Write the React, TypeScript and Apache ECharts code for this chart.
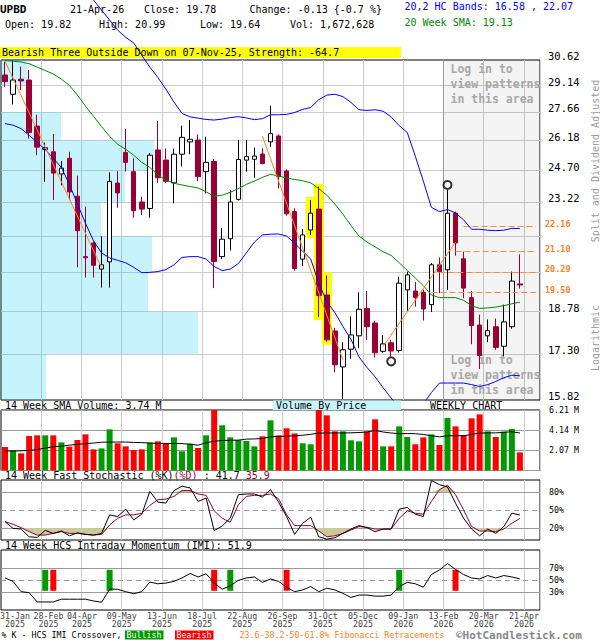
import React, { useEffect, useRef } from 'react';
import * as echarts from 'echarts';

const MONO = '"DejaVu Sans Mono", monospace';
const NUM_SLOTS = 67;

// ---------- weekly OHLC (31-Jan-2025 .. 21-Apr-2026) ----------
const opens = [29.74, 28.65, 29.5, 29.45, 26.93, 25.74, 25.62, 24.54, 25.3, 23.5,
  20.9, 21.46, 20.4, 20.69, 24.11, 25.59, 24.65, 23.24, 22.95, 25.71,
  25.21, 24.12, 25.5, 26.12, 26.21, 24.65, 25.14, 20.9, 21.64, 23.36,
  25.21, 25.25, 25.51, 26.12, 26.42, 24.68, 22.81, 20.8, 22.01, 22.92,
  19.4, 18.09, 16.87, 17.46, 17.92, 18.9, 18.37, 17.39, 17.68, 17.42,
  19.59, 19.55, 19.5, 19.04, 20.57, 20.37, 22.74, 20.81, 19.3, 18.3,
  17.92, 18.24, 17.56, 18.24, 19.82];
const highs = [30.52, 30.6, 30.23, 30.03, 27.53, 26.08, 26.52, 25.16, 25.62, 24.46,
  23.03, 21.52, 21.74, 24.62, 24.68, 26.78, 25.3, 23.47, 25.55, 27.2,
  25.78, 25.78, 26.95, 27.25, 26.5, 26.38, 25.26, 22.1, 23.79, 26.21,
  26.21, 25.83, 25.8, 28.02, 26.5, 24.75, 22.96, 22.05, 23.33, 23.94,
  20.15, 18.2, 17.7, 18.61, 19.5, 19.55, 18.45, 17.95, 17.78, 20.1,
  20.3, 19.9, 19.6, 20.64, 20.87, 23.79, 22.81, 21.1, 19.55, 18.67,
  18.5, 18.53, 19.04, 20.3, 20.99];
const lows = [29.07, 28.09, 28.88, 26.29, 25.45, 24.17, 23.33, 24.0, 23.33, 20.47,
  20.07, 20.07, 19.68, 19.68, 22.98, 24.65, 22.54, 22.66, 22.54, 24.12,
  24.12, 23.18, 24.9, 25.5, 24.2, 23.63, 19.66, 20.8, 21.15, 23.3,
  24.65, 24.36, 25.0, 25.87, 23.86, 22.63, 20.34, 20.52, 21.8, 18.59,
  17.72, 16.69, 15.85, 17.14, 17.49, 17.78, 17.18, 17.34, 17.22, 17.35,
  18.8, 18.96, 18.46, 18.77, 19.47, 19.59, 20.94, 19.28, 17.63, 16.8,
  17.7, 17.44, 17.22, 18.17, 19.64];
const closes = [29.36, 29.45, 29.4, 26.6, 25.85, 25.82, 24.58, 24.82, 23.7, 21.98,
  20.85, 20.55, 20.57, 24.19, 23.65, 25.1, 22.85, 22.92, 25.45, 24.36,
  24.19, 25.5, 26.35, 26.25, 24.41, 25.1, 20.7, 21.62, 23.24, 25.24,
  25.38, 25.41, 25.04, 26.54, 24.41, 22.71, 20.42, 21.8, 22.74, 19.38,
  17.78, 16.94, 17.44, 17.95, 18.87, 18.24, 17.34, 17.64, 17.4, 19.85,
  20.17, 19.3, 18.88, 20.57, 20.3, 22.74, 21.46, 19.66, 18.28, 17.25,
  18.1, 17.52, 18.41, 19.93, 19.78];

// ---------- overlays ----------
const upperBand = [null, null, null, null, null, null, null, null, null, null,
  35.1, 34.4, 33.74, 33.09, 32.45, 32.0, 31.65, 30.9, 30.2, 29.6,
  28.93, 28.22, 27.6, 27.42, 27.35, 27.28, 27.25, 27.3, 27.38, 27.43,
  27.36, 27.27, 27.32, 27.53, 27.53, 27.55, 27.65, 27.82, 27.92, 28.35,
  28.6, 28.65, 28.52, 28.2, 27.8, 27.76, 27.8, 27.72, 27.42, 26.95,
  26.6, 25.4, 24.2, 23.0, 22.81, 22.9, 22.75, 22.45, 22.04, 22.04,
  22.0, 21.98, 22.0, 22.08, 22.07];
const lowerBand = [27.06, 26.98, 26.8, 26.45, 26.1, 25.73, 25.3, 24.85, 24.05, 23.15,
  22.3, 21.55, 21.05, 20.85, 20.75, 20.65, 20.47, 20.26, 20.27, 20.3,
  20.38, 20.57, 20.87, 20.9, 20.9, 20.8, 20.5, 20.34, 20.4, 20.62,
  21.05, 21.5, 21.8, 21.83, 21.84, 21.75, 21.45, 21.12, 20.8, 19.85,
  19.15, 18.75, 18.25, 17.8, 17.2, 16.85, 16.55, 16.2, 15.88, 15.6,
  15.45, 15.45, 15.7, 16.05, 16.35, 16.35, 16.35, 16.35, 16.3, 16.24,
  16.3, 16.4, 16.52, 16.6, 16.58];
const sma20 = [30.58, 30.55, 30.5, 30.4, 30.2, 30.0, 29.8, 29.5, 29.15, 28.6,
  28.0, 27.45, 26.9, 26.4, 26.0, 25.75, 25.45, 25.1, 24.85, 24.5,
  24.25, 24.1, 24.02, 23.95, 23.88, 23.7, 23.5, 23.55, 23.68, 23.85,
  24.05, 24.2, 24.38, 24.52, 24.45, 24.34, 24.28, 24.22, 24.12, 23.85,
  23.55, 23.15, 22.7, 22.2, 21.75, 21.5, 21.3, 21.1, 20.95, 20.65,
  20.35, 20.05, 19.75, 19.4, 19.3, 19.3, 19.3, 19.2, 19.0, 18.9,
  18.92, 18.95, 19.0, 19.07, 19.13];

const priceTicks = [30.62, 29.14, 27.66, 26.18, 24.70, 23.22, 21.74, 20.26, 18.78, 17.30, 15.82];
const hiddenPriceLabels = [21.74, 20.26];
// volume by price per band (top band first), millions of shares
const vbpVolume = [5.2, 0, 12.0, 30.6, 24.8, 20.0, 30.2, 29.4, 39.4, 9.0];
const VBP_AXIS_MAX = 107.8;

const fibLevels = [22.16, 21.10, 20.29, 19.50];
const fibStartWeeks = [57, 56, 54, 53];
const trendLines = [
  [[0, 30.55], [12, 20.45]],
  [[32, 26.4], [42, 17.1]],
  [[47, 17.55], [56, 21.5]],
];
const patternWeeks = [38, 39, 40];
const highMarkers = [[55, 23.79]];
const lowMarkers = [[48, 17.22]];
const loginFromWeek = 55;

// ---------- volume ----------
const volumes = [2.41, 2.07, 1.76, 3.54, 3.61, 3.61, 3.61, 2.89, 2.45, 3.13,
  3.71, 2.17, 2.27, 4.22, 2.79, 2.48, 2.10, 2.17, 2.86, 2.99,
  2.75, 3.40, 1.97, 2.75, 2.31, 3.61, 6.35, 4.64, 3.40, 3.13,
  3.03, 2.48, 3.51, 5.15, 3.61, 4.33, 3.81, 2.79, 2.69, 6.4,
  5.66, 4.02, 4.02, 3.10, 2.99, 4.02, 5.25, 2.48, 2.48, 4.53,
  3.44, 2.69, 3.40, 3.71, 2.62, 5.39, 4.53, 3.64, 5.35, 5.76,
  4.02, 3.44, 3.99, 4.26, 1.86];
const volSma = [2.0, 2.0, 2.02, 2.07, 2.15, 2.3, 2.44, 2.5, 2.6, 2.68,
  2.75, 2.82, 2.9, 2.92, 2.92, 2.92, 2.88, 2.86, 2.82, 2.78,
  2.77, 2.77, 2.76, 2.7, 2.6, 2.85, 3.0, 3.08, 3.1, 3.12,
  3.22, 3.24, 3.28, 3.45, 3.5, 3.53, 3.56, 3.62, 3.71, 3.84,
  3.85, 3.85, 3.85, 3.87, 3.9, 3.95, 4.11, 3.95, 3.85, 3.78,
  3.79, 3.78, 3.7, 3.57, 3.45, 3.57, 3.57, 3.57, 3.7, 3.84,
  3.86, 3.86, 3.92, 3.98, 3.85];

// ---------- stochastic ----------
const stochK = [30.7, 19.4, 18.3, 5.4, 4.3, 16, 11, 15, 7, 12,
  9.4, 8.2, 11, 41.9, 39, 51.4, 33.5, 43, 81, 63.2,
  61.5, 82.3, 89.6, 86.8, 64.3, 70, 15.5, 23.4, 36.3, 75.5,
  76.7, 76.7, 71.6, 84, 63.2, 39, 9.4, 27.9, 38, 5.4,
  1.5, 3.8, 11, 18.3, 24, 20.6, 13.9, 18.3, 18.3, 51.4,
  54.2, 43, 39, 99, 92.3, 88.4, 61.5, 36.3, 18.3, 7,
  18.3, 11, 22.3, 44.7, 41.7];
const stochD = [30.7, 26.2, 20.6, 13.9, 8.2, 8.2, 11, 13.9, 11, 11,
  9.4, 8.2, 9.4, 25, 36.3, 41.9, 41.9, 44.7, 57.6, 67.1,
  68.2, 72.7, 82.3, 82.3, 76.7, 74.4, 48.6, 36.3, 29.5, 58.7,
  72.7, 74.4, 74.4, 76.7, 68.8, 41.9, 24, 24, 24, 15,
  5.4, 7, 11, 16.7, 22.3, 21.2, 18.3, 18.3, 18.3, 36.3,
  48.6, 44.7, 43, 64.3, 84, 91.3, 75.5, 50.3, 22.3, 15,
  15, 13.9, 18.3, 27.9, 35.9];

// ---------- IMI ----------
const imi = [53.4, 47.7, 30.6, 28.9, 13.4, 13.4, 13.4, 18, 18, 18,
  18, 15.1, 12.9, 34.6, 34.6, 30.6, 27.1, 30.6, 46.6, 43.7,
  44.9, 47.7, 53.4, 60.9, 55.1, 60.3, 44.9, 34.6, 40.3, 49.4,
  53.4, 55.1, 46, 51.7, 47.7, 38, 30.6, 33.4, 39.1, 30.6,
  36.3, 33.4, 27.7, 20.9, 24.9, 24.9, 23.1, 23.1, 24.9, 39.1,
  46, 43.7, 38, 59.1, 66.6, 77.4, 67.7, 59.1, 53.4, 51.7,
  57.4, 53.4, 57.4, 55.1, 51.9];
const imiCrossWeeks = [5, 6, 13, 26, 28, 35, 49, 56];
const imiCrossBullish = [true, false, true, false, true, false, true, false];
const IMI_BAR_LOW = 32;
const IMI_BAR_HIGH = 67;

// ---------- x tick labels ----------
const tickWeeks = [0, 4, 9, 14, 19, 24, 29, 34, 39, 44, 49, 54, 59, 64];
const tickLabels = ['31-Jan\n2025', '28-Feb\n2025', '04-Apr\n2025', '09-May\n2025', '13-Jun\n2025',
  '18-Jul\n2025', '22-Aug\n2025', '26-Sep\n2025', '31-Oct\n2025', '05-Dec\n2025',
  '09-Jan\n2026', '13-Feb\n2026', '20-Mar\n2026', '21-Apr\n2026'];

const weeks = Array.from({ length: NUM_SLOTS }, (_, i) =>
  new Date(Date.UTC(2025, 0, 31) + i * 7 * 86400000).toISOString().slice(0, 10));

const UP = '#ffffff';
const DOWN = '#990033';
const GREEN = '#009900';
const RED = '#ff0000';
const ORANGE = '#ff7f1e';
const TICK_FONT = 8.3;

function buildOption() {
  const gridBase = {
    left: 1, width: 539, show: true, borderColor: '#000', borderWidth: 1,
    backgroundColor: '#fff', containLabel: false, outerBoundsMode: 'none',
  };
  const grids = [
    { ...gridBase, top: 60, height: 340 },
    { ...gridBase, top: 410, height: 60.5 },
    { ...gridBase, top: 480, height: 60 },
    { ...gridBase, top: 550, height: 60 },
  ];

  const catAxis = (gridIndex: number) => ({
    type: 'category', gridIndex, data: weeks, boundaryGap: true,
    axisLine: { show: false }, axisTick: { show: false },
    axisLabel: { show: false },
    splitLine: {
      show: true,
      interval: (idx: number) => idx > 0 && idx % 5 === 0,
      lineStyle: { color: '#cccccc', width: 1 },
    },
  });

  const xAxes = [
    catAxis(0),
    { type: 'value', gridIndex: 0, min: 0, max: VBP_AXIS_MAX, show: false, position: 'top' },
    catAxis(1),
    catAxis(2),
    catAxis(3),
  ];

  const hiddenY = {
    axisLine: { show: false }, axisTick: { show: false },
    axisLabel: { show: false }, splitLine: { show: false },
  };
  const yAxes = [
    { type: 'log', gridIndex: 0, min: 15.82, max: 30.62, logBase: 10, ...hiddenY },
    {
      type: 'value', gridIndex: 1, min: 0, max: 6.21, interval: 2.07, position: 'right',
      axisLine: { show: false }, axisTick: { show: false },
      splitLine: { show: true, lineStyle: { color: '#999', width: 1 } },
      axisLabel: {
        show: true, margin: 9, color: '#000', fontFamily: MONO, fontSize: 8.3,
        formatter: (v: number) => (v === 0 ? '' : `${v.toFixed(2)} M`),
      },
    },
    { type: 'value', gridIndex: 2, min: 0, max: 100, ...hiddenY },
    { type: 'value', gridIndex: 3, min: 0, max: 100, ...hiddenY },
  ];

  const pctLines = (levels: number[], dashed: number) => ({
    silent: true, z: 1, symbol: ['none', 'none'], animation: false,
    lineStyle: { color: '#999', width: 1, type: 'solid' },
    label: {
      show: true, position: 'end', distance: 9, color: '#000', fontFamily: MONO, fontSize: 8.3,
      formatter: (p: any) => `${p.value}%`,
    },
    data: levels.map((v) => ({
      yAxis: v,
      lineStyle: v === dashed ? { color: '#999', type: [5, 4] } : { color: '#999', type: 'solid' },
    })),
  });

  const series: any[] = [];

  // volume-by-price bands
  series.push({
    type: 'custom', xAxisIndex: 1, yAxisIndex: 0, z: 1, silent: true,
    encode: { x: 0, y: [1, 2] },
    data: vbpVolume.map((v, k) => [v, priceTicks[k + 1], priceTicks[k]]),
    renderItem: (_params: any, api: any) => {
      const v = api.value(0);
      if (!v) return null;
      const p0 = api.coord([0, api.value(2)]);
      const p1 = api.coord([v, api.value(1)]);
      return {
        type: 'rect',
        shape: { x: p0[0], y: p0[1], width: p1[0] - p0[0], height: p1[1] - p0[1] },
        style: { fill: 'rgba(0,205,240,0.22)' },
      };
    },
  });

  // price grid lines with labels
  series.push({
    type: 'line', xAxisIndex: 0, yAxisIndex: 0, data: [], z: 1, silent: true,
    markLine: {
      silent: true, z: 1, symbol: ['none', 'none'], animation: false,
      lineStyle: { color: '#cccccc', width: 1, type: 'solid' },
      label: {
        show: true, position: 'end', distance: 8, color: '#000', fontFamily: MONO, fontSize: 10.5,
        verticalAlign: 'bottom', lineHeight: 8,
        formatter: (p: any) => Number(p.value).toFixed(2),
      },
      data: priceTicks.map((v, k) => ({
        yAxis: v,
        lineStyle: k === 0 || k === priceTicks.length - 1
          ? { color: 'rgba(0,0,0,0)' } : { color: '#cccccc' },
        label: hiddenPriceLabels.includes(v) ? { show: false } : { show: true },
      })),
    },
  });

  // "log in" shaded area
  series.push({
    type: 'custom', xAxisIndex: 0, yAxisIndex: 0, z: 1, silent: true,
    data: [[weeks[loginFromWeek], priceTicks[0]]],
    renderItem: (params: any, api: any) => {
      const cs = params.coordSys;
      const bw = cs.width / NUM_SLOTS;
      const x0 = api.coord([api.value(0), api.value(1)])[0] - bw / 2;
      const right = cs.x + cs.width;
      const ts = {
        text: 'Log in to\nview patterns\nin this area', fill: '#a8a8a8',
        fontFamily: MONO, fontSize: 11.5, fontWeight: 'bold', lineHeight: 15,
        align: 'left', textAlign: 'left',
      };
      return {
        type: 'group',
        children: [
          { type: 'rect', shape: { x: x0, y: cs.y, width: right - x0, height: cs.height }, style: { fill: 'rgba(0,0,0,0.045)' } },
          { type: 'line', shape: { x1: x0, y1: cs.y, x2: x0, y2: cs.y + cs.height }, style: { stroke: '#999', lineWidth: 1 } },
          { type: 'text', x: x0 + 7, y: cs.y + 1, style: { ...ts, verticalAlign: 'top', textVerticalAlign: 'top' } },
          { type: 'text', x: x0 + 7, y: cs.y + cs.height - 3, style: { ...ts, verticalAlign: 'bottom', textVerticalAlign: 'bottom' } },
        ],
      };
    },
  });

  // pattern highlight boxes
  series.push({
    type: 'custom', xAxisIndex: 0, yAxisIndex: 0, z: 2, silent: true,
    encode: { x: 0, y: [1, 2] },
    data: patternWeeks.map((w) => [weeks[w], highs[w], lows[w]]),
    renderItem: (params: any, api: any) => {
      const cs = params.coordSys;
      const bw = cs.width / NUM_SLOTS;
      const top = api.coord([api.value(0), api.value(1)]);
      const bot = api.coord([api.value(0), api.value(2)]);
      const w = bw * 1.25;
      return {
        type: 'rect',
        shape: { x: top[0] - w / 2, y: top[1] - 3, width: w, height: bot[1] - top[1] + 6 },
        style: { fill: '#ffff00' },
      };
    },
  });

  // candles
  series.push({
    type: 'candlestick', xAxisIndex: 0, yAxisIndex: 0, z: 3, barWidth: 5,
    data: opens.map((o, i) => [o, closes[i], lows[i], highs[i]]),
    itemStyle: { color: UP, color0: DOWN, borderColor: '#000', borderColor0: DOWN, borderWidth: 1 },
  });

  const line = (data: any[], color: string, extra: any = {}) => ({
    type: 'line', xAxisIndex: 0, yAxisIndex: 0, data, symbol: 'none', z: 4, silent: true,
    lineStyle: { color, width: 1 }, itemStyle: { color }, ...extra,
  });
  series.push(line(sma20, '#008800'));
  series.push(line(lowerBand, '#0000ff'));
  series.push(line(upperBand, '#0000ff', { clip: false, connectNulls: false }));
  trendLines.forEach((t) => {
    series.push(line(t.map(([w, p]) => [weeks[w], p]), ORANGE));
  });

  // fibonacci retracements
  series.push({
    type: 'line', xAxisIndex: 0, yAxisIndex: 0, data: [], z: 4, silent: true,
    markLine: {
      silent: true, z: 4, symbol: ['none', 'none'], animation: false,
      lineStyle: { color: '#ff8a3c', width: 1, type: [6, 3] },
      label: {
        show: true, position: 'end', distance: 9, color: '#ff7f1e', fontFamily: MONO,
        fontSize: 8.5, fontWeight: 'bold', verticalAlign: 'bottom', lineHeight: 5,
        formatter: (p: any) => p.name,
      },
      data: fibLevels.map((v, k) => [
        { name: v.toFixed(2), coord: [weeks[fibStartWeeks[k]], v] },
        { name: v.toFixed(2), coord: [weeks[NUM_SLOTS - 1], v] },
      ]),
    },
  });

  // pattern markers
  series.push({
    type: 'scatter', xAxisIndex: 0, yAxisIndex: 0, z: 5, silent: true,
    symbol: 'emptyCircle', symbolSize: 8, symbolOffset: [0, -5],
    itemStyle: { color: '#000', borderColor: '#000', borderWidth: 1 },
    data: highMarkers.map(([w, p]) => [weeks[w], p]),
  });
  series.push({
    type: 'scatter', xAxisIndex: 0, yAxisIndex: 0, z: 5, silent: true,
    symbol: 'emptyCircle', symbolSize: 8, symbolOffset: [0, 5],
    itemStyle: { color: '#000', borderColor: '#000', borderWidth: 1 },
    data: lowMarkers.map(([w, p]) => [weeks[w], p]),
  });

  // volume
  series.push({
    type: 'bar', xAxisIndex: 2, yAxisIndex: 1, barWidth: 6, z: 2, silent: true,
    data: volumes.map((v, i) => ({
      value: v,
      itemStyle: { color: closes[i] >= opens[i] ? GREEN : RED },
    })),
  });
  series.push({
    type: 'line', xAxisIndex: 2, yAxisIndex: 1, data: volSma, symbol: 'none', z: 3, silent: true,
    lineStyle: { color: '#000', width: 1 }, itemStyle: { color: '#000' },
  });

  // stochastic
  const stochAxes = { xAxisIndex: 3, yAxisIndex: 2, symbol: 'none', silent: true };
  series.push({
    type: 'line', ...stochAxes, data: [], z: 1, markLine: pctLines([80, 50, 20], 50),
  });
  series.push({
    type: 'line', ...stochAxes, stack: 'lo', z: 2, data: stochD.map((v) => Math.min(v, 20)),
    lineStyle: { opacity: 0 },
  });
  series.push({
    type: 'line', ...stochAxes, stack: 'lo', z: 2, data: stochD.map((v) => 20 - Math.min(v, 20)),
    lineStyle: { opacity: 0 }, areaStyle: { color: '#c9c99a', opacity: 1 },
  });
  series.push({
    type: 'line', ...stochAxes, stack: 'hi', z: 2, data: stochD.map(() => 80),
    lineStyle: { opacity: 0 },
  });
  series.push({
    type: 'line', ...stochAxes, stack: 'hi', z: 2, data: stochD.map((v) => Math.max(v - 80, 0)),
    lineStyle: { opacity: 0 }, areaStyle: { color: '#c9c99a', opacity: 1 },
  });
  series.push({
    type: 'line', ...stochAxes, z: 3, data: stochD,
    lineStyle: { color: DOWN, width: 1 }, itemStyle: { color: DOWN },
  });
  series.push({
    type: 'line', ...stochAxes, z: 4, data: stochK,
    lineStyle: { color: '#000', width: 1 }, itemStyle: { color: '#000' },
  });

  // IMI
  const imiAxes = { xAxisIndex: 4, yAxisIndex: 3, silent: true };
  series.push({
    type: 'line', ...imiAxes, data: [], z: 1, symbol: 'none', markLine: pctLines([70, 50, 30], 50),
  });
  const crossBase = weeks.map(() => null as any);
  const crossLen = weeks.map(() => null as any);
  imiCrossWeeks.forEach((w, k) => {
    crossBase[w] = IMI_BAR_LOW;
    crossLen[w] = { value: IMI_BAR_HIGH - IMI_BAR_LOW, itemStyle: { color: imiCrossBullish[k] ? GREEN : RED } };
  });
  series.push({
    type: 'bar', ...imiAxes, stack: 'cross', barWidth: 6, z: 2, data: crossBase,
    itemStyle: { color: 'rgba(0,0,0,0)' },
  });
  series.push({
    type: 'bar', ...imiAxes, stack: 'cross', barWidth: 6, z: 2, data: crossLen,
  });
  series.push({
    type: 'line', ...imiAxes, z: 3, data: imi, symbol: 'none',
    lineStyle: { color: '#000', width: 1 }, itemStyle: { color: '#000' },
  });

  // date tick labels at the week-end boundary of each labelled week
  let lastRight = -Infinity;
  series.push({
    type: 'custom', ...imiAxes, z: 5, clip: false,
    data: tickWeeks.map((w, k) => [weeks[w], 0, k]),
    renderItem: (params: any, api: any) => {
      if (params.dataIndex === 0) lastRight = -Infinity;
      const cs = params.coordSys;
      const bw = cs.width / NUM_SLOTS;
      const c = api.coord([api.value(0), api.value(1)]);
      const text = tickLabels[api.value(2)];
      const chars = Math.max(...text.split('\n').map((s) => s.length));
      const w = chars * TICK_FONT * 0.602;
      let left = Math.max(0, c[0] + bw / 2 - w / 2);
      left = Math.max(left, lastRight + 3.5);
      lastRight = left + w;
      return {
        type: 'text', x: left + w / 2, y: cs.y + cs.height + 1.5,
        style: {
          text, fill: '#444', fontFamily: MONO, fontSize: TICK_FONT, lineHeight: 8.5,
          align: 'center', textAlign: 'center', verticalAlign: 'top', textVerticalAlign: 'top',
        },
      };
    },
  });

  const txt = (x: number, y: number, text: string, extra: any = {}) => ({
    type: 'text', x, y, z: 0, silent: true,
    style: {
      text, fill: '#000', fontFamily: MONO, fontSize: 10,
      align: 'left', verticalAlign: 'middle', ...extra,
    },
  });

  const graphic = [
    { type: 'rect', z: 0, silent: true, shape: { x: 0, y: 47, width: 401, height: 11 }, style: { fill: '#ffff00' } },
    txt(2, 52.5, 'Bearish Three Outside Down on 07-Nov-25, Strength: -64.7'),
    txt(0, 9, 'UPBD', { fontWeight: 'bold', fontSize: 11 }),
    txt(70, 9, '21-Apr-26'),
    txt(144, 9, 'Close: 19.78'),
    txt(249.5, 9, 'Change: -0.13 {-0.7 %}'),
    txt(5, 24, 'Open: 19.82'),
    txt(99, 24, 'High: 20.99'),
    txt(200, 24, 'Low: 19.64'),
    txt(290, 24, 'Vol: 1,672,628'),
    txt(404.5, 6.5, '20,2 HC Bands: 16.58 , 22.07', { fill: '#0000ff' }),
    txt(404.5, 22, '20 Week SMA: 19.13', { fill: '#008800' }),
    {
      type: 'text', x: 595, y: 161, rotation: Math.PI / 2, silent: true,
      style: { text: 'Split and Dividend Adjusted', fill: '#999', fontFamily: MONO, fontSize: 10, align: 'center', verticalAlign: 'middle' },
    },
    {
      type: 'text', x: 595, y: 338, rotation: Math.PI / 2, silent: true,
      style: { text: 'Logarithmic', fill: '#999', fontFamily: MONO, fontSize: 10, align: 'center', verticalAlign: 'middle' },
    },
    txt(5, 405.5, '14 Week SMA Volume: 3.74 M'),
    { type: 'rect', z: 0, silent: true, shape: { x: 273, y: 400.5, width: 128, height: 10 }, style: { fill: '#c8f4fc' } },
    txt(276, 405.5, 'Volume By Price'),
    txt(430, 405.5, 'WEEKLY CHART'),
    {
      type: 'text', x: 5, y: 475.5, silent: true,
      style: {
        text: '{k|14 Week Fast Stochastic (%K)}{d|(%D)}{k| : 41.7 }{d|35.9}',
        verticalAlign: 'middle', align: 'left',
        rich: {
          k: { fill: '#000', color: '#000', fontFamily: MONO, fontSize: 10 },
          d: { fill: DOWN, color: DOWN, fontFamily: MONO, fontSize: 10 },
        },
      },
    },
    txt(5, 545.5, '14 Week HCS Intraday Momentum (IMI): 51.9'),
    txt(1.5, 635, '% K - HCS IMI Crossover,', { fontSize: 8.3 }),
    { type: 'rect', z: 0, silent: true, shape: { x: 125, y: 630.5, width: 38.5, height: 9 }, style: { fill: GREEN } },
    txt(126.5, 635, 'Bullish', { fontSize: 8.3, fill: '#fff' }),
    { type: 'rect', z: 0, silent: true, shape: { x: 175, y: 630.5, width: 38.5, height: 9 }, style: { fill: RED } },
    txt(176.5, 635, 'Bearish', { fontSize: 8.3, fill: '#fff' }),
    txt(239.5, 635, '23.6-38.2-50-61.8% Fibonacci Retracements', { fontSize: 8.3, fill: '#ff7f1e' }),
    txt(456, 635, '\u00A9HotCandlestick.com', { fontSize: 11, fontWeight: 'bold', fill: '#888' }),
  ];

  return {
    animation: false,
    backgroundColor: '#fff',
    textStyle: { fontFamily: MONO },
    grid: grids,
    xAxis: xAxes,
    yAxis: yAxes,
    series,
    graphic,
  };
}

export default function App() {
  const ref = useRef<HTMLDivElement>(null);
  useEffect(() => {
    document.body.style.margin = '0';
    const chart = echarts.init(ref.current as HTMLDivElement, null, { renderer: 'svg' });
    chart.setOption(buildOption() as any);
    return () => chart.dispose();
  }, []);
  return <div ref={ref} style={{ width: 600, height: 640 }} />;
}
